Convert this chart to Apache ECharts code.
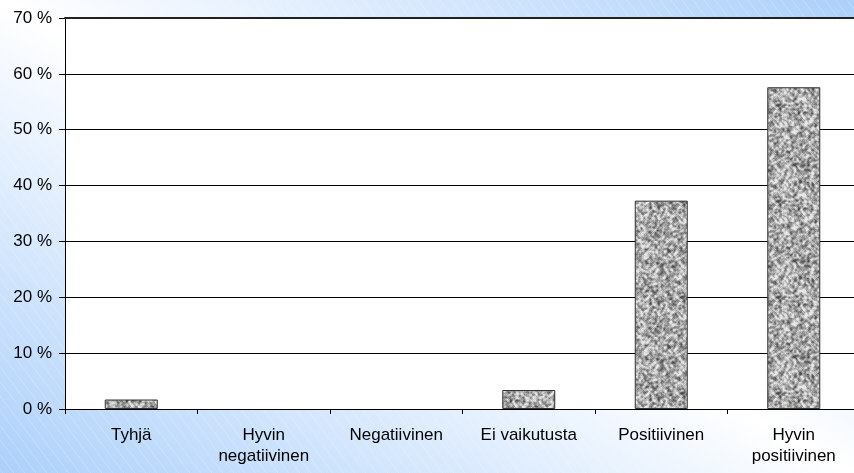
<!DOCTYPE html>
<html>
<head>
<meta charset="utf-8">
<script src="https://cdn.jsdelivr.net/npm/echarts@6/dist/echarts.min.js"></script>
<style>
html,body{margin:0;padding:0;}
#chart{width:854px;height:473px;}
</style>
</head>
<body>
<div id="chart"></div>
<script>
var categories = ['Tyhjä', 'Hyvin\nnegatiivinen', 'Negatiivinen', 'Ei vaikutusta', 'Positiivinen', 'Hyvin\npositiivinen'];
var values = [1.7, 0, 0, 3.4, 37.3, 57.6];
var yTicks = [0, 10, 20, 30, 40, 50, 60, 70];

var W = 854, H = 473;

// background: reflected diagonal gradient with faint stripes
var bg = document.createElement('canvas');
bg.width = W; bg.height = H;
var bctx = bg.getContext('2d');
var g = bctx.createLinearGradient(627.5, -125.5, 226.5, 598.5);
g.addColorStop(0, '#acd0fa');
g.addColorStop(0.5, '#ffffff');
g.addColorStop(1, '#acd0fa');
bctx.fillStyle = g;
bctx.fillRect(0, 0, W, H);
bctx.strokeStyle = 'rgba(255,255,255,0.22)';
bctx.lineWidth = 1;
for (var s = -H; s < W + H; s += 11) {
  bctx.beginPath();
  bctx.moveTo(s, 0);
  bctx.lineTo(s + H * 0.75, H);
  bctx.stroke();
}

// granite texture for bars (deterministic pseudo-random)
var seed = 12345;
function rnd() { seed = (seed * 1103515245 + 12345) & 0x7fffffff; return seed / 0x7fffffff; }
var N = 96;
var raw = [];
for (var i = 0; i < N * N; i++) raw.push(rnd());
var sm = [];
for (var y = 0; y < N; y++) {
  for (var x = 0; x < N; x++) {
    var sum = 0;
    for (var dy = -1; dy <= 1; dy++) for (var dx = -1; dx <= 1; dx++) {
      sum += raw[((y + dy + N) % N) * N + ((x + dx + N) % N)];
    }
    sm.push(sum / 9);
  }
}
var tx = document.createElement('canvas');
tx.width = N; tx.height = N;
var tctx = tx.getContext('2d');
var img = tctx.createImageData(N, N);
for (var y2 = 0; y2 < N; y2++) {
  for (var x2 = 0; x2 < N; x2++) {
    var c = sm[y2 * N + x2];
    var r = raw[y2 * N + x2];
    var v = 170 + (c - 0.5) * 300 + (r - 0.5) * 40;
    if (v < 75) v = 75; if (v > 230) v = 230;
    var k = (y2 * N + x2) * 4;
    img.data[k] = v; img.data[k + 1] = v; img.data[k + 2] = v; img.data[k + 3] = 255;
  }
}
tctx.putImageData(img, 0, 0);

var barData = values.map(function (v) {
  return v === 0 ? {value: v, itemStyle: {borderWidth: 0, opacity: 0}} : {value: v};
});

var chart = echarts.init(document.getElementById('chart'), null, {renderer: 'canvas'});
chart.setOption({
  animation: false,
  backgroundColor: {image: bg, repeat: 'no-repeat'},
  grid: {left: 65, top: 18, width: 795, bottom: 64, show: true, backgroundColor: '#ffffff', borderWidth: 0,
         containLabel: false, outerBoundsMode: 'none'},
  xAxis: [{
    type: 'category',
    data: categories,
    axisLine: {show: true, lineStyle: {color: '#000', width: 1}},
    axisTick: {show: true, length: 5, lineStyle: {color: '#000'}},
    axisLabel: {color: '#000', fontFamily: 'Liberation Sans', fontSize: 17, lineHeight: 21, margin: 16, interval: 0}
  }, {
    type: 'category',
    position: 'top',
    data: categories,
    axisLine: {show: true, lineStyle: {color: '#222', width: 2}},
    axisTick: {show: false},
    axisLabel: {show: false}
  }],
  yAxis: {
    type: 'value',
    min: yTicks[0],
    max: yTicks[yTicks.length - 1],
    interval: 10,
    axisLine: {show: true, lineStyle: {color: '#000', width: 1}},
    axisTick: {show: true, length: 6, lineStyle: {color: '#000'}},
    axisLabel: {color: '#000', fontFamily: 'Liberation Sans', fontSize: 17, margin: 13, formatter: '{value} %'},
    splitLine: {show: true, lineStyle: {color: '#000', width: 1}}
  },
  series: [{
    type: 'bar',
    data: barData,
    barWidth: '40%',
    itemStyle: {
      color: {image: tx, repeat: 'repeat'},
      borderColor: '#333',
      borderWidth: 1
    }
  }]
});
</script>
</body>
</html>
